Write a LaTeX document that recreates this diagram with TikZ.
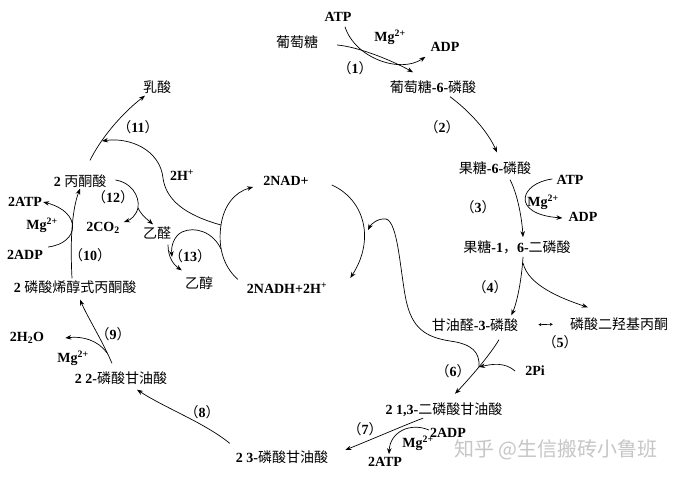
\documentclass[tikz,border=0pt]{standalone}
\usepackage{fontspec}
\setmainfont{Liberation Serif}
\newfontfamily\cjk{Noto Sans CJK SC}
\usetikzlibrary{arrows.meta}

\newcommand\zh[1]{{\cjk\mdseries #1}}
\newcommand\rxn[1]{\zh{（}#1\zh{）}}

\tikzset{
	lbl/.style={inner sep=1pt,font=\fontsize{14}{16}\selectfont\bfseries},
	wm/.style={inner sep=1pt,text=gray!45,font=\fontsize{20}{22}\selectfont},
	arr/.style={line width=0.7pt,-{Stealth[length=6pt,width=4.5pt]}},
	lin/.style={line width=0.7pt},
	dbl/.style={line width=0.6pt,{Stealth[length=3pt,width=3pt]}-{Stealth[length=3pt,width=3pt]}}
}

\begin{document}
\begin{tikzpicture}[x=1pt,y=-1pt]
	
	\fill[white](0,0) rectangle (677,479);
	\useasboundingbox (0,0) rectangle (677,479);
	
	% right branch
	\node[lbl] (atpA) at (338,17) {ATP};
	\node[lbl] (glc) at (297,42) {\zh{葡萄糖}};
	\node[lbl] (mgA) at (390,37) {Mg\textsuperscript{2+}};
	\node[lbl] (adpA) at (445,47) {ADP};
	\node[lbl] (r1) at (355,68) {\rxn{1}};
	\node[lbl] (g6p) at (433,87) {\zh{葡萄糖}-6-\zh{磷酸}};
	\node[lbl] (r2) at (442,127) {\rxn{2}};
	\node[lbl] (f6p) at (495,168) {\zh{果糖}-6-\zh{磷酸}};
	\node[lbl] (atpB) at (570,180) {ATP};
	\node[lbl] (mgB) at (543,202) {Mg\textsuperscript{2+}};
	\node[lbl] (adpB) at (583,217) {ADP};
	\node[lbl] (r3) at (478,207) {\rxn{3}};
	\node[lbl] (fbp) at (517,247) {\zh{果糖}-1\zh{，}6-\zh{二磷酸}};
	\node[lbl] (r4) at (490,287) {\rxn{4}};
	\node[lbl] (g3p) at (475,325) {\zh{甘油醛}-3-\zh{磷酸}};
	\node[lbl] (dhap) at (619,324) {\zh{磷酸二羟基丙酮}};
	\node[lbl] (r5) at (560,342) {\rxn{5}};
	\node[lbl] (r6) at (453,371) {\rxn{6}};
	\node[lbl] (pi) at (535,371) {2Pi};
	
	% bottom
	\node[lbl] (bpg) at (444,410) {2 1,3-\zh{二磷酸甘油酸}};
	\node[lbl] (r7) at (365,429) {\rxn{7}};
	\node[lbl] (adpC) at (448,433) {2ADP};
	\node[lbl] (mgC) at (418,443) {Mg\textsuperscript{2+}};
	\node[lbl] (atpC) at (385,462) {2ATP};
	\node[lbl] (pg3) at (282,457) {2 3-\zh{磷酸甘油酸}};
	\node[lbl] (r8) at (202,412) {\rxn{8}};
	\node[lbl] (pg2) at (121,378) {2 2-\zh{磷酸甘油酸}};
	\node[lbl] (mgD) at (73,358) {Mg\textsuperscript{2+}};
	\node[lbl] (h2o) at (27,338) {2H\textsubscript{2}O};
	\node[lbl] (r9) at (113,334) {\rxn{9}};
	
	% left branch
	\node[lbl] (pep) at (75,287) {2 \zh{磷酸烯醇式丙酮酸}};
	\node[lbl] (adpD) at (25,255) {2ADP};
	\node[lbl] (r10) at (90,255) {\rxn{10}};
	\node[lbl] (mgE) at (42,225) {Mg\textsuperscript{2+}};
	\node[lbl] (atpD) at (25,202) {2ATP};
	\node[lbl] (pyr) at (80,181) {2 \zh{丙酮酸}};
	\node[lbl] (r12) at (113,197) {\rxn{12}};
	\node[lbl] (co2) at (103,228) {2CO\textsubscript{2}};
	\node[lbl] (ald) at (157,233) {\zh{乙醛}};
	\node[lbl] (r13) at (190,256) {\rxn{13}};
	\node[lbl] (eth) at (199,283) {\zh{乙醇}};
	\node[lbl] (hp) at (182,175) {2H\textsuperscript{+}};
	\node[lbl] (r11) at (138,127) {\rxn{11}};
	\node[lbl] (lac) at (157,87) {\zh{乳酸}};
	
	% NAD cycle
	\node[lbl] (nad) at (286,181) {2NAD+};
	\node[lbl] (nadh) at (287,288) {2NADH+2H\textsuperscript{+}};
	
	\node[wm] (mark) at (556,450) {\zh{知乎 @生信搬砖小鲁班}};
	
	\coordinate (j6) at (479,367);
	\coordinate (jh) at (221,225);
	\coordinate (jn) at (221,249);
	\coordinate (j12) at (138,208);
	\coordinate (j11) at (102,141);
	\coordinate (j9) at (107,353);
	
	% (1) - (5)
	\draw[arr]([xshift=18pt,yshift=-3pt]glc.east) .. controls (360,47) and (395,62) .. ([xshift=-20pt,yshift=7pt]g6p.north);
	\draw[arr]([xshift=7pt,yshift=-4pt]atpA.south) .. controls (355,58) and (400,74) .. ([xshift=-4pt,yshift=-4pt]adpA.south west);
	\draw[arr]([xshift=17pt,yshift=-2pt]g6p.south) .. controls (468,110) and (487,130) .. ([xshift=2pt,yshift=8pt]f6p.north);
	\draw[arr]([xshift=15pt,yshift=-4pt]f6p.south) .. controls (518,195) and (522,220) .. ([xshift=6pt,yshift=2pt]fbp.north);
	\draw[arr]([xshift=-3pt,yshift=1pt]atpB.west) .. controls (520,183) and (510,214) .. ([xshift=-5pt,yshift=-1pt]adpB.west);
	\draw[arr]([xshift=6pt,yshift=-2pt]fbp.south) .. controls (522,275) and (518,300) .. ([xshift=-8pt,yshift=2pt]g3p.north east);
	\draw[arr]([xshift=6pt,yshift=-8pt]fbp.south) .. controls (528,285) and (560,298) .. ([xshift=19pt,yshift=9pt]dhap.north west);
	\draw[dbl,shorten <=19pt,shorten >=16pt](g3p.east) -- (dhap.west);
	
	% (6) - (9)
	\draw[arr]([xshift=24pt,yshift=-7pt]g3p.south) .. controls (490,355) and (470,378) .. ([xshift=11pt,yshift=8pt]bpg.north);
	\draw[arr]([xshift=-9pt]pi.west) .. controls (505,362) and (492,364) .. (j6);
	\draw[arr]([xshift=-21pt]bpg.south) .. controls (405,425) and (375,438) .. ([xshift=16pt,yshift=7pt]pg3.east);
	\draw[arr]([yshift=3pt]adpC.west) .. controls (410,422) and (390,432) .. ([xshift=4pt,yshift=2pt]atpC.north);
	\draw[arr]([xshift=-5pt,yshift=6pt]pg3.north west) .. controls (205,423) and (165,408) .. ([xshift=16pt,yshift=-4pt]pg2.south);
	\draw[arr]([xshift=-9pt,yshift=7pt]pg2.north) .. controls (102,340) and (88,318) .. ([xshift=5pt,yshift=-5pt]pep.south);
	\draw[arr](j9) .. controls (98,340) and (82,336) .. ([xshift=20pt]h2o.east);
	
	% (10) - (13)
	\draw[arr]([xshift=-3pt,yshift=1pt]pep.north) .. controls (70,240) and (72,210) .. (pyr.south);
	\draw[arr]([xshift=4pt,yshift=8pt]adpD.east) .. controls (80,243) and (82,212) .. (atpD.east);
	\draw[arr]([xshift=10pt,yshift=13pt]pyr.north) .. controls (100,140) and (120,115) .. ([xshift=-12pt,yshift=-1pt]lac.south);
	\draw[lin]([xshift=8pt,yshift=1pt]pyr.east) .. controls (130,182) and (140,195) .. (j12);
	\draw[arr](j12) .. controls (136,216) and (130,220) .. ([xshift=3pt,yshift=6pt]co2.east);
	\draw[arr](j12) .. controls (142,216) and (148,220) .. ([xshift=-4pt,yshift=1pt]ald.north);
	\draw[arr]([xshift=11pt,yshift=-4pt]ald.south) .. controls (168,258) and (174,265) .. ([xshift=-2pt,yshift=5pt]eth.north west);
	
	% NAD+ / NADH
	\draw[arr]([xshift=22pt,yshift=-4pt]nad.east) .. controls (365,200) and (375,240) .. ([xshift=22pt,yshift=10pt]nadh.east);
	\draw[arr]([xshift=-8pt,yshift=2pt]nadh.north west) .. controls (222,265) and (218,245) .. (jh) .. controls (224,205) and (235,192) .. ([xshift=-9pt,yshift=-6pt]nad.west);
	\draw[arr](jh) .. controls (185,215) and (166,200) .. (163,178) .. controls (160,150) and (130,137) .. (j11);
	\draw[arr](jn) .. controls (213,232) and (195,226) .. (182,232) .. controls (174,236) and (171,246) .. (172,257);
	\draw[arr](j6) .. controls (480,352) and (472,344) .. (450,341) .. controls (425,337) and (412,328) .. (406,300) .. controls (400,270) and (398,222) .. (386,219) .. controls (378,218) and (371,224) .. (368,230);
	
\end{tikzpicture}
\end{document}
